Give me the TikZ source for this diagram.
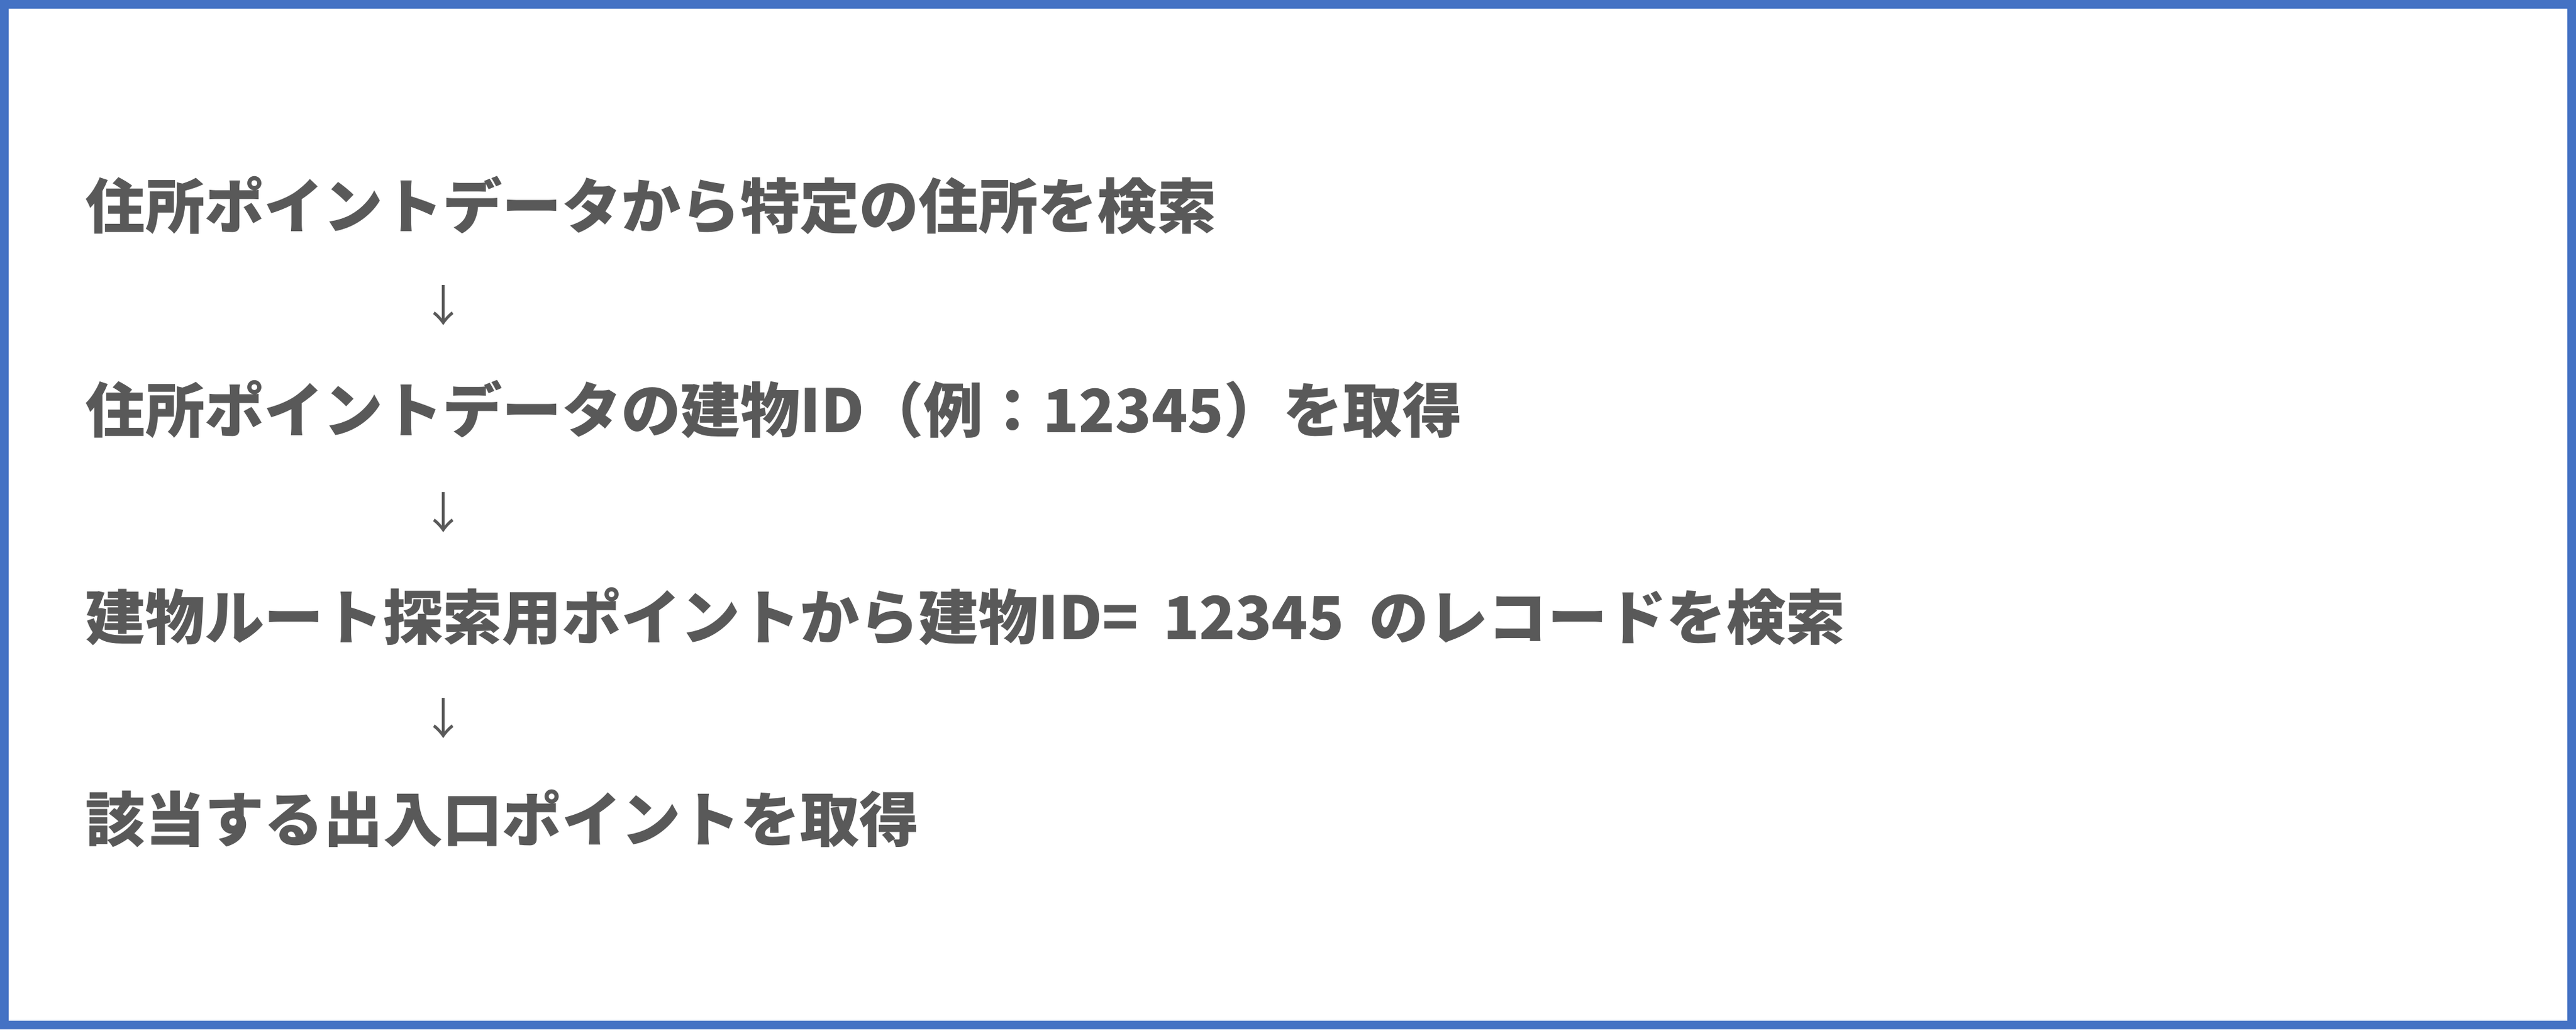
\documentclass[tikz,border=0pt]{standalone}
\usepackage{fontspec}
\newfontfamily\jpfont{Noto Sans CJK JP}
\usepackage{tikz}
\usetikzlibrary{positioning}

\definecolor{frameblue}{HTML}{4472C4}
\definecolor{textgray}{HTML}{595959}

\begin{document}
\begin{tikzpicture}[steptext/.style={anchor=west, inner sep=0pt, text=textgray, font=\jpfont\bfseries\fontsize{27.4}{32}\selectfont},
    downarrow/.style={inner sep=0pt, text=textgray, font=\jpfont\fontsize{20}{24}\selectfont}]

        \draw[frameblue, line width=0.14cm] (0.07,0.07) rectangle (41.61,16.58);

        \node[steptext] (s1) at (1.38,13.33) {住所ポイントデータから特定の住所を検索};
        \node[steptext] (s2) [below=3.3cm of s1.west, anchor=west] {住所ポイントデータの建物ID（例：12345）を取得};
        \node[steptext] (s3) [below=3.35cm of s2.west, anchor=west] {建物ルート探索用ポイントから建物ID=\hspace{0.4cm}12345\hspace{0.4cm}のレコードを検索};
        \node[steptext] (s4) [below=3.27cm of s3.west, anchor=west] {該当する出入口ポイントを取得};

        \node[downarrow] (a1) [below=1.62cm of s1.west, anchor=center, xshift=5.8cm] {↓};
        \node[downarrow] (a2) [below=1.67cm of s2.west, anchor=center, xshift=5.8cm] {↓};
        \node[downarrow] (a3) [below=1.65cm of s3.west, anchor=center, xshift=5.8cm] {↓};

\end{tikzpicture}
\end{document}
